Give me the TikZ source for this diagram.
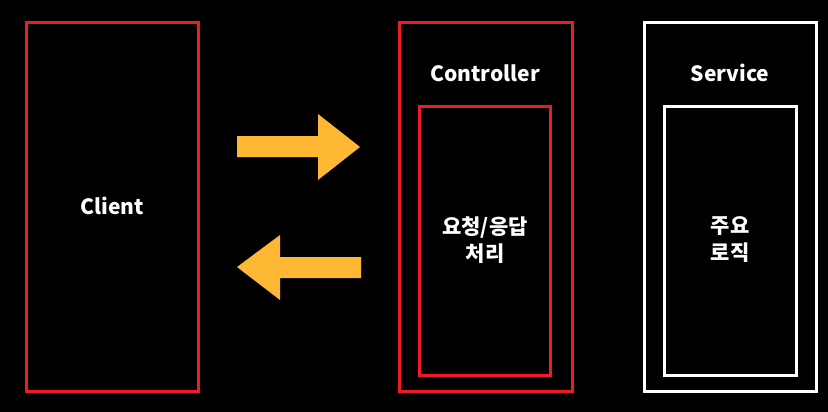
\documentclass[tikz,border=0pt]{standalone}
\usepackage{fontspec}
\setmainfont{Noto Sans CJK KR}[BoldFont={* Black}]
\definecolor{boxred}{HTML}{ED1C24}
\definecolor{arroworange}{HTML}{FFB833}
\begin{document}
\begin{tikzpicture}[x=1pt,y=-1pt,
  redbox/.style={draw=boxred,line width=3pt,inner sep=0pt},
  whitebox/.style={draw=white,line width=3pt,inner sep=0pt},
  lbl/.style={text=white,font=\bfseries\fontsize{21}{27}\selectfont,align=center},
  klbl/.style={text=white,font=\bfseries\fontsize{21}{27}\selectfont,align=center},
  blockarrow/.style={fill=arroworange}]
\fill[black] (0,0) rectangle (828,412);
\useasboundingbox (0,0) rectangle (828,412);
% Client
\node[redbox,minimum width=172pt,minimum height=369pt] (client) at (112,207) {};
\node[lbl] (clientlbl) at (112,206) {Client};
% Controller
\node[redbox,minimum width=173pt,minimum height=369pt] (ctrl) at (485.5,207) {};
\node[lbl] (ctrllbl) at (485,73) {Controller};
\node[redbox,minimum width=131pt,minimum height=268pt] (ctrlin) at (485,241) {};
\node[klbl] (ctrlinlbl) at (485,240) {요청/응답\\처리};
% Service
\node[whitebox,minimum width=172pt,minimum height=369pt] (svc) at (730.5,207) {};
\node[lbl] (svclbl) at (730,73) {Service};
\node[whitebox,minimum width=132pt,minimum height=268pt] (svcin) at (730.5,241) {};
\node[klbl] (svcinlbl) at (730,240) {주요\\로직};
% arrows
\fill[blockarrow] (237,136) -- (318,136) -- (318,114) -- (360,147) -- (318,180) -- (318,157) -- (237,157) -- cycle;
\fill[blockarrow] (361,257) -- (280,257) -- (280,235) -- (237,267) -- (280,300) -- (280,278) -- (361,278) -- cycle;
\end{tikzpicture}
\end{document}
